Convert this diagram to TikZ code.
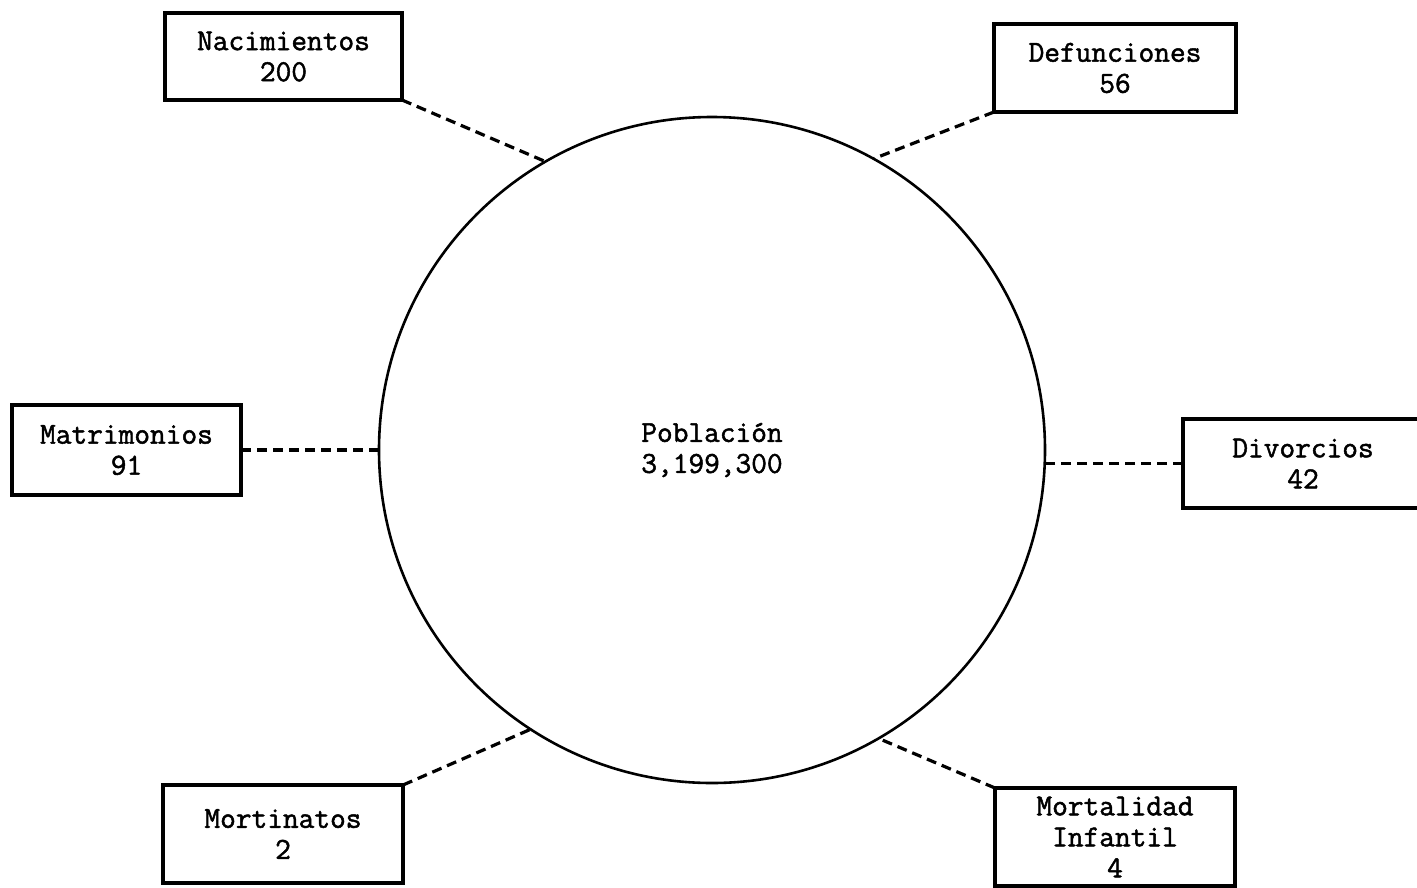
\documentclass[tikz,border=0pt]{standalone}
\usepackage{fontspec}
\newfontfamily\twfont{Latin Modern Mono}[FakeBold=1.6]
\begin{document}
\begin{tikzpicture}[x=1pt,y=-1pt,
  every node/.style={font=\twfont\fontsize{30.5}{31}\selectfont},
  databox/.style={draw, line width=3.4pt, rectangle, align=center, inner sep=0pt, outer sep=0pt},
  link/.style={line width=3.2pt, dash pattern=on 10pt off 6pt},
  pop/.style={draw, circle, line width=2.6pt, minimum size=666pt, inner sep=0pt, outer sep=0pt, align=center}]
\useasboundingbox (0,0) rectangle (1417,887);
\clip (0,0) rectangle (1417,887);
\node[pop] (c) at (712,450) {Población\\3,199,300};
\node[databox, minimum width=237pt, minimum height=87pt] (nac) at (283.5,56.5) {Nacimientos\\200};
\node[databox, minimum width=242pt, minimum height=88pt] (def) at (1115,68) {Defunciones\\56};
\node[databox, minimum width=229pt, minimum height=90pt] (mat) at (126.5,450) {Matrimonios\\91};
\node[databox, minimum width=240pt, minimum height=89pt] (div) at (1303,463.5) {Divorcios\\42};
\node[databox, minimum width=240pt, minimum height=98pt] (mor) at (283,834) {Mortinatos\\2};
\node[databox, minimum width=240pt, minimum height=98pt] (inf) at (1115,837) {Mortalidad\\Infantil\\4};
\draw[link] (nac.south east) -- (c.120.3);
\draw[link] (def.south west) -- (c.61.6);
\draw[link] (mat.east) -- (c.west);
\draw[link] (div.west) -- (c.east |- div.west);
\draw[link] (mor.north east) -- (c.237.3);
\draw[link] (inf.north west) -- (c.300.6);
\end{tikzpicture}
\end{document}
